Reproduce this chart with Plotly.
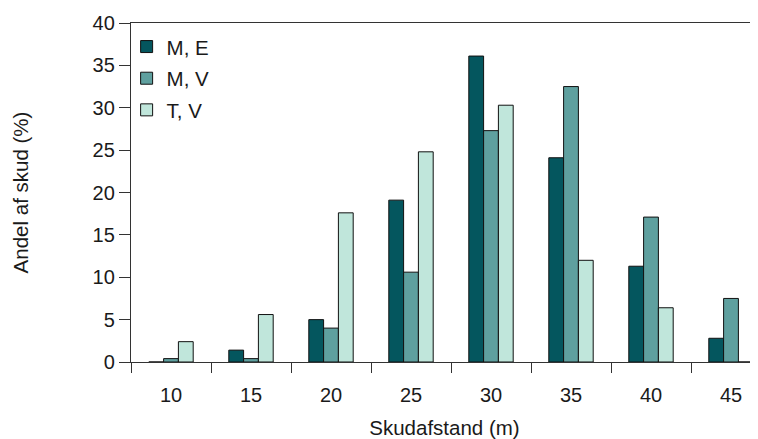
import plotly.graph_objects as go

categories = ["10", "15", "20", "25", "30", "35", "40", "45"]
m_e = [0, 1.4, 5.0, 19.1, 36.1, 24.1, 11.3, 2.8]
m_v = [0.4, 0.4, 4.0, 10.6, 27.3, 32.5, 17.1, 7.5]
t_v = [2.4, 5.6, 17.6, 24.8, 30.3, 12.0, 6.4, 0]
series_names = ["M, E", "M, V", "T, V"]
colors = ["#04565E", "#5FA09F", "#C0E6DB"]

FONT = "Liberation Sans, Arial, Helvetica, sans-serif"
TXT = "#1a1a1a"

fig = go.Figure()
for i, (name, vals) in enumerate(zip(series_names, [m_e, m_v, t_v])):
    fig.add_trace(go.Bar(
        x=categories, y=vals, name=name,
        marker=dict(color=colors[i], line=dict(color="#111111", width=1)),
        legendgroup=f"g{i}",
    ))

# page body has an 8px default margin, so the figure is sized/offset to compensate
fig.update_layout(
    width=750, height=431,
    margin=dict(l=123, r=0, t=15, b=77),
    paper_bgcolor="white", plot_bgcolor="white",
    barmode="group", bargap=0.445, bargroupgap=0,
    font=dict(family=FONT, size=20, color=TXT),
    showlegend=True,
    legend=dict(x=-0.007, y=0.989, xanchor="left", yanchor="top",
                bgcolor="rgba(0,0,0,0)", font=dict(size=20.5, color=TXT),
                tracegroupgap=2, itemwidth=30),
    xaxis=dict(
        type="category", range=[-0.5, 7.3375], automargin=False,
        tickson="boundaries", ticks="outside", ticklen=10, tickwidth=1.3,
        tickcolor="#333333", showline=True, linecolor="#333333", linewidth=1.3,
        mirror=True, showgrid=False, zeroline=False,
        tickfont=dict(size=20, color=TXT), ticklabelstandoff=15,
        title=dict(text="Skudafstand (m)", font=dict(size=20.5, color=TXT), standoff=15),
    ),
    yaxis=dict(
        range=[0, 40], tickvals=[0, 5, 10, 15, 20, 25, 30, 35, 40], automargin=False,
        ticks="outside", ticklen=11, tickwidth=1.3, tickcolor="#333333",
        showline=True, linecolor="#333333", linewidth=1.3,
        showgrid=False, zeroline=False,
        tickfont=dict(size=20, color=TXT),
        title=dict(text="Andel af skud (%)", font=dict(size=20.5, color=TXT), standoff=58),
    ),
)

fig.write_html("out.html")
